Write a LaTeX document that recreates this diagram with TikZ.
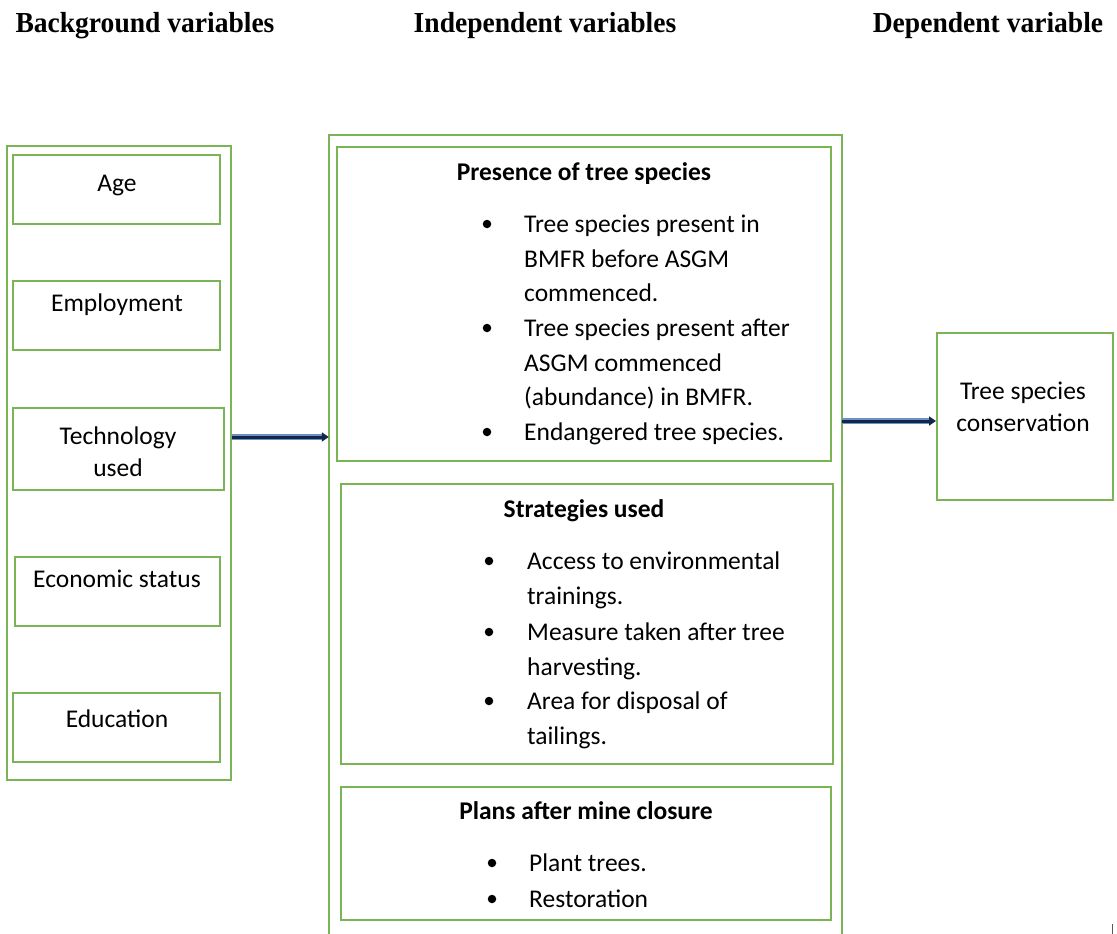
\documentclass[tikz,border=0pt]{standalone}
\usepackage{fontspec}
\setmainfont{Carlito}
\newfontfamily\hdfont{Liberation Serif}
\usetikzlibrary{arrows.meta}
\definecolor{gframe}{RGB}{122,180,84}
\definecolor{navy}{RGB}{22,38,72}
\definecolor{glow}{RGB}{110,145,200}
\tikzset{
  gbox/.style={draw=gframe, line width=2pt, inner sep=0pt, rectangle},
  hd/.style={font=\hdfont\bfseries\fontsize{29}{30}\selectfont, inner sep=0pt},
  txt/.style={font=\fontsize{25.5}{30}\selectfont, inner sep=0pt, anchor=base west},
  ctxt/.style={font=\fontsize{25.5}{30}\selectfont, inner sep=0pt, anchor=base},
  ttl/.style={font=\bfseries\fontsize{25.5}{30}\selectfont, inner sep=0pt, anchor=base},
  dot/.style={circle, fill=black, inner sep=0pt, minimum size=8.5pt},
  glowline/.style={draw=glow, line width=6pt},
  arr/.style={draw=navy, line width=3pt, -{Triangle[length=7pt,width=9pt]}},
}
\begin{document}
\begin{tikzpicture}[x=1pt,y=-1pt]
\useasboundingbox (0,0) rectangle (1117,934);
% headers
\node[hd, xscale=0.95] (h1) at (145,26) {Background variables};
\node[hd, xscale=0.95] (h2) at (545,26) {Independent variables};
\node[hd, xscale=0.95] (h3) at (988,26) {Dependent variable};
% background
\node[gbox, minimum width=224pt, minimum height=634pt] (bg) at (119,463) {};
\node[gbox, minimum width=207pt, minimum height=69pt] (age) at (116.5,189.5) {};
\node[gbox, minimum width=207pt, minimum height=69pt] (emp) at (116.5,315.5) {};
\node[gbox, minimum width=211pt, minimum height=82pt] (tech) at (118.5,449) {};
\node[gbox, minimum width=205pt, minimum height=69pt] (eco) at (117.5,591.5) {};
\node[gbox, minimum width=207pt, minimum height=69pt] (edu) at (116.5,727.5) {};
\node[ctxt] (tage) at (117,191) {Age};
\node[ctxt] (temp) at (117,311) {Employment};
\node[ctxt] (ttech1) at (118,444) {Technology};
\node[ctxt] (ttech2) at (118,476) {used};
\node[ctxt] (teco) at (117,587) {Economic status};
\node[ctxt] (tedu) at (117,727) {Education};
% independent
\node[inner sep=0pt, minimum width=513pt, minimum height=799pt] (iv) at (585.5,534.5) {};
\draw[draw=gframe, line width=2pt] (iv.south west) -- (iv.north west) -- (iv.north east) -- (iv.south east);
\node[gbox, minimum width=494pt, minimum height=314pt] (pres) at (584,304) {};
\node[gbox, minimum width=492pt, minimum height=280pt] (strat) at (587,624) {};
\node[gbox, minimum width=490pt, minimum height=133pt] (plans) at (586,853.5) {};
% presence
\node[ttl] (tp) at (584,180) {Presence of tree species};
\node[dot] (p1) at (487,224) {};
\node[txt] (pl1) at (524,232) {Tree species present in};
\node[txt] (pl2) at (524,267) {BMFR before ASGM};
\node[txt] (pl3) at (524,301) {commenced.};
\node[dot] (p2) at (487,328) {};
\node[txt] (pl4) at (524,336) {Tree species present after};
\node[txt] (pl5) at (524,371) {ASGM commenced};
\node[txt] (pl6) at (524,405) {(abundance) in BMFR.};
\node[dot] (p3) at (487,432) {};
\node[txt] (pl7) at (524,440) {Endangered tree species.};
% strategies
\node[ttl] (ts) at (584,517) {Strategies used};
\node[dot] (s1) at (489,561) {};
\node[txt] (sl1) at (527,569) {Access to environmental};
\node[txt] (sl2) at (527,604) {trainings.};
\node[dot] (s2) at (489,632) {};
\node[txt] (sl3) at (527,640) {Measure taken after tree};
\node[txt] (sl4) at (527,675) {harvesting.};
\node[dot] (s3) at (489,701) {};
\node[txt] (sl5) at (527,709) {Area for disposal of};
\node[txt] (sl6) at (527,744) {tailings.};
% plans
\node[ttl] (tpl) at (586,819) {Plans after mine closure};
\node[dot] (q1) at (492,863) {};
\node[txt] (ql1) at (529,871) {Plant trees.};
\node[dot] (q2) at (492,899) {};
\node[txt] (ql2) at (529,907) {Restoration};
% dependent
\node[gbox, minimum width=176pt, minimum height=167pt] (dv) at (1025,416.5) {};
\node[ctxt] (td1) at (1023,399) {Tree species};
\node[ctxt] (td2) at (1023,431) {conservation};
% arrows
\coordinate (a1) at (0,437);
\coordinate (a2) at (0,421);
\draw[glowline] (bg.east |- a1) -- ([xshift=-6pt]iv.west |- a1);
\draw[arr] (bg.east |- a1) -- (iv.west |- a1);
\draw[glowline] (iv.east |- a2) -- ([xshift=-6pt]dv.west |- a2);
\draw[arr] (iv.east |- a2) -- (dv.west |- a2);
% small mark
\coordinate (m1) at (1112,924);
\coordinate (m2) at (1112,934);
\draw[gray!70!black, line width=1pt] (m1) -- (m2);
\end{tikzpicture}
\end{document}
